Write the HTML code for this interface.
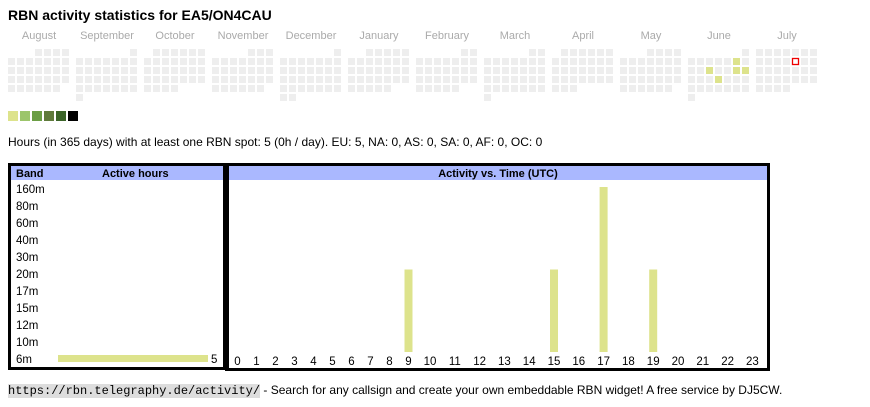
<!DOCTYPE html>
<html><head><meta charset="utf-8">
<style>
body{margin:0;width:870px;height:407px;background:#fff;font-family:"Liberation Sans",Arial,sans-serif;position:relative;overflow:hidden}
.a{position:absolute;white-space:nowrap}
</style></head><body>
<div class="a" style="left:8px;top:7px;font-size:14px;font-weight:bold">RBN activity statistics for EA5/ON4CAU</div>
<svg id="cal" class="a" style="left:0;top:25px" width="870" height="100"></svg>
<div class="a" style="left:8px;top:135px;font-size:12px">Hours (in 365 days) with at least one RBN spot: 5 (0h / day). EU: 5, NA: 0, AS: 0, SA: 0, AF: 0, OC: 0</div>
<svg id="chart" class="a" style="left:0;top:160px" width="870" height="215"></svg>
<div class="a" style="left:8px;top:383px;font-size:12px"><span style="background:#ddd;font-family:'Liberation Mono',monospace;font-size:12px">https://rbn.telegraphy.de/activity/</span> - Search for any callsign and create your own embeddable RBN widget! A free service by DJ5CW.</div>
<script>
const NS="http://www.w3.org/2000/svg";
function mk(p,t,a){const e=document.createElementNS(NS,t);for(const k in a)e.setAttribute(k,a[k]);p.appendChild(e);return e;}
// calendar data
const months=["August","September","October","November","December","January","February","March","April","May","June","July"];
const monthOffsets=[3,6,1,4,6,2,5,5,1,3,6,0];
const monthDays=[31,30,31,30,31,31,28,31,30,31,30,32];
const activeMonth=10;
const activeDays=[7,11,14,15,19];
const todayMonth=11, todayDay=12;
const legendColors=["#dde38c","#9cc56b","#6b9e45","#5f7a3b","#3b6428","#000"];
const cal=document.getElementById('cal');
months.forEach((m,i)=>{
  const x0=8+i*68;
  const t=mk(cal,'text',{x:x0+31,y:14,'text-anchor':'middle','font-size':'11',fill:'#aaa','font-family':'Liberation Sans, sans-serif'});
  t.textContent=m;
  
  
  for(let d=1;d<=monthDays[i];d++){
    const idx=monthOffsets[i]+d-1;const col=idx%7,row=Math.floor(idx/7);
    let fill='#eee';
    if(i===activeMonth&&activeDays.includes(d))fill='#dde38c';
    const r=mk(cal,'rect',{x:x0+col*9,y:24+row*9,width:7,height:7,fill:fill});
    
    
    if(i===todayMonth&&d===todayDay){r.setAttribute('fill','none');r.setAttribute('stroke','#e00');r.setAttribute('stroke-width','1.3');r.setAttribute('x',x0+col*9+0.5);r.setAttribute('y',24+row*9+0.5);r.setAttribute('width',6);r.setAttribute('height',6);}
  }
});
legendColors.forEach((c,i)=>{
  const r=mk(cal,'rect',{x:8+i*12,y:86,width:10,height:10,fill:c});
  
  
});
// chart data
const bands=["160m","80m","60m","40m","30m","20m","17m","15m","12m","10m","6m"];
const bandHours=[0,0,0,0,0,0,0,0,0,0,5];
const hours=[0,1,2,3,4,5,6,7,8,9,10,11,12,13,14,15,16,17,18,19,20,21,22,23];
const hourValues=[0,0,0,0,0,0,0,0,0,1,0,0,0,0,0,1,0,2,0,1,0,0,0,0];
const ch=document.getElementById('chart');
function T(x,y,s,o){const t=mk(ch,'text',Object.assign({x:x,y:y,'font-size':'11.5','font-family':'Liberation Sans, sans-serif',fill:'#000'},o||{}));t.textContent=s;return t;}
let e=mk(ch,'rect',{x:11,y:6,width:213,height:14,fill:'#aab8ff'});
e=mk(ch,'rect',{x:229,y:6,width:540,height:14,fill:'#aab8ff'});
e=mk(ch,'rect',{x:9.5,y:4.5,width:215,height:204,fill:'none',stroke:'#000','stroke-width':3});
e=mk(ch,'path',{d:'M227 4.5H768.5V209.5H227',fill:'none',stroke:'#000','stroke-width':3});
e=mk(ch,'line',{x1:227,y1:3,x2:227,y2:211,stroke:'#000','stroke-width':4});
T(16,17,'Band',{'font-weight':'bold','font-size':'11'});
T(102,17,'Active hours',{'font-weight':'bold','font-size':'11'});
T(498,17,'Activity vs. Time (UTC)',{'font-weight':'bold','font-size':'11','text-anchor':'middle'});
const maxBand=Math.max(...bandHours);
function bandY(i){return 33+i*17;}
function bandW(v){return v/maxBand*150;}
bands.forEach((b,i)=>{
  const t=T(16,bandY(i),b);
  if(bandHours[i]>0){
    const r=mk(ch,'rect',{x:58,y:bandY(i)-8,width:bandW(bandHours[i]),height:7,fill:'#dde38c'});
    
    const v=T(58+bandW(bandHours[i])+3,bandY(i),String(bandHours[i]));
  }
});
function hourX(h){return h<10?237.5+h*19:430+(h-10)*24.8;}
const maxH=Math.max(...hourValues);
function hY(v){return 192-v/maxH*165;}
hours.forEach((h,i)=>{
  const t=T(hourX(h),205,String(h),{'text-anchor':'middle'});
  if(hourValues[i]>0){
    const r=mk(ch,'rect',{x:hourX(h)-4,y:hY(hourValues[i]),width:8,height:192-hY(hourValues[i]),fill:'#dde38c'});
    
  }
});
</script>
</body></html>
